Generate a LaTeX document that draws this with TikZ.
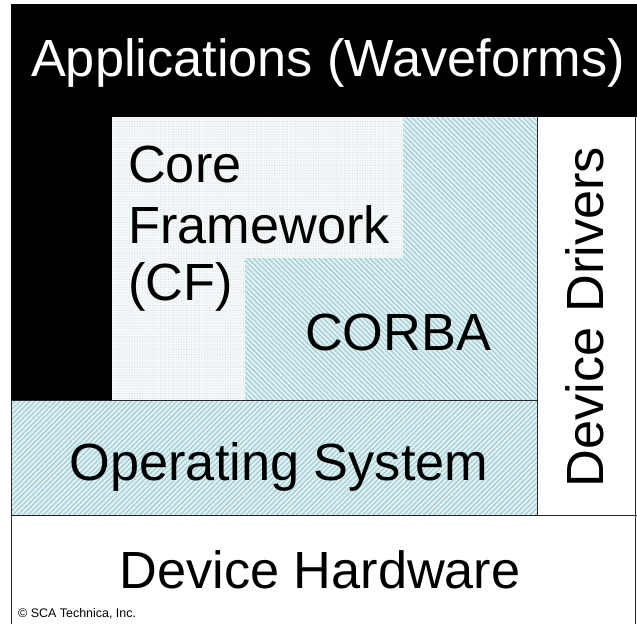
\documentclass[tikz,border=0pt]{standalone}
\usepackage{fontspec}
\setmainfont{Liberation Sans}
\usetikzlibrary{patterns.meta}

\definecolor{hatchbg}{RGB}{222,240,242}
\definecolor{hatchln}{RGB}{160,204,210}
\definecolor{dotbg}{RGB}{244,248,249}
\definecolor{dotfg}{RGB}{196,214,218}
\definecolor{rule}{RGB}{40,40,40}

\tikzset{
  layer/.style={font=\fontsize{52.5}{60}\selectfont, inner sep=0pt},
  hatchA/.style={fill=hatchbg, postaction={pattern={Lines[angle=-45,distance=3.6pt,line width=1.1pt]}, pattern color=hatchln}},
  hatchB/.style={fill=hatchbg, postaction={pattern={Lines[angle=45,distance=3.6pt,line width=1.1pt]}, pattern color=hatchln}},
  dotted area/.style={fill=dotbg, postaction={pattern={Dots[distance=2.6pt,radius=0.45pt]}, pattern color=dotfg}},
  border/.style={draw=rule, line width=1pt},
}

\begin{document}
\begin{tikzpicture}[x=1bp,y=-1bp]
\useasboundingbox (0,0) rectangle (637,624);
\fill[white] (0,0) rectangle (637,624);

% Applications band and left column
\fill[black] (11,4) rectangle (637,117.5);
\fill[black] (11,117) rectangle (112,400);

% Core Framework area (dotted)
\path[dotted area] (112,117.5) -- (403,117.5) -- (403,258) -- (245,258) -- (245,400) -- (112,400) -- cycle;
% CORBA area (hatched)
\path[hatchA] (403,117.5) -- (537,117.5) -- (537,400) -- (245,400) -- (245,258) -- (403,258) -- cycle;
% Operating System (hatched)
\path[hatchB] (11,400) rectangle (537,515);

% rules
\draw[border] (11,400) -- (537,400);
\draw[border] (537,117.5) -- (537,515);
\draw[border] (11,515) -- (637,515);
\draw[border] (635,117.5) -- (635,624);
\draw[border] (11,400) -- (11,624);

% labels
\node[layer, text=white, anchor=base] (apps) at (328,77) {Applications (Waveforms)};
\node[layer, anchor=base west] (cf1) at (128,183) {Core};
\node[layer, anchor=base west] (cf2) at (128,243) {Framework};
\node[layer, anchor=base west] (cf3) at (128,300) {(CF)};
\node[layer, anchor=base] (corba) at (398,350) {CORBA};
\node[layer, anchor=base] (os) at (279,480) {Operating System};
\node[layer, anchor=base] (hw) at (320,588) {Device Hardware};
\node[layer, anchor=base, rotate=90] (drv) at (603,317) {Device Drivers};
\node[font=\fontsize{12.5}{14}\selectfont, inner sep=0pt, anchor=base west] (copy) at (18,617) {© SCA Technica, Inc.};
\end{tikzpicture}
\end{document}
